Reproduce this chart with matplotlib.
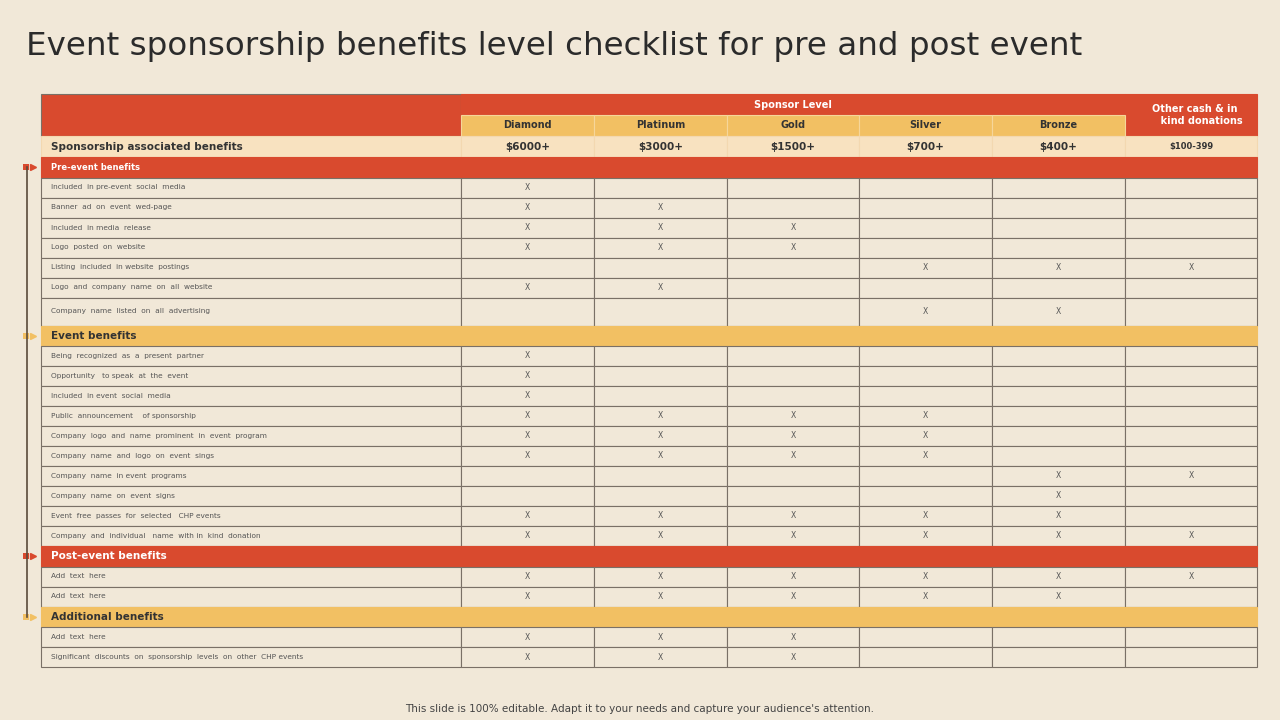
import matplotlib
matplotlib.use("Agg")
import matplotlib.pyplot as plt
from matplotlib.patches import Rectangle

# ---- data ----
levels = ["Diamond", "Platinum", "Gold", "Silver", "Bronze"]
prices = ["$6000+", "$3000+", "$1500+", "$700+", "$400+", "$100-399"]

pre_event = ["Included  in pre-event  social  media", "Banner  ad  on  event  wed-page",
             "Included  in media  release", "Logo  posted  on  website",
             "Listing  included  in website  postings", "Logo  and  company  name  on  all  website",
             "Company  name  listed  on  all  advertising"]
pre_marks = ["X.....", "XX....", "XXX...", "XXX...", "...XXX", "XX....", "...XX."]

event = ["Being  recognized  as  a  present  partner", "Opportunity   to speak  at  the  event",
         "Included  in event  social  media", "Public  announcement    of sponsorship",
         "Company  logo  and  name  prominent  in  event  program", "Company  name  and  logo  on  event  sings",
         "Company  name  in event  programs", "Company  name  on  event  signs",
         "Event  free  passes  for  selected   CHP events", "Company  and  individual   name  with in  kind  donation"]
event_marks = ["X.....", "X.....", "X.....", "XXXX..", "XXXX..", "XXXX..", "....XX", "....X.", "XXXXX.", "XXXXXX"]

post_event = ["Add  text  here", "Add  text  here"]
post_marks = ["XXXXXX", "XXXXX."]

additional = ["Add  text  here", "Significant  discounts  on  sponsorship  levels  on  other  CHP events"]
add_marks = ["XXX...", "XXX..."]

sections = [("Pre-event benefits", pre_event, pre_marks, "red"),
            ("Event benefits", event, event_marks, "yellow"),
            ("Post-event benefits", post_event, post_marks, "red"),
            ("Additional benefits", additional, add_marks, "yellow")]

# ---- style ----
BG = "#f1e8d8"
RED = "#d94a2e"
YEL = "#f2c063"
PALE = "#f8e2c0"
LINE = "#7a7066"
TXT = "#555555"

col_x = [41, 461, 594, 727, 859, 992, 1125, 1257]
row_h, sec_h, tall_h = 20, 20.5, 28

fig = plt.figure(figsize=(12.8, 7.2), dpi=100, facecolor=BG)
ax = fig.add_axes([0, 0, 1, 1])
ax.set_xlim(0, 1280); ax.set_ylim(720, 0); ax.axis("off")

fig.text(26 / 1280, 1 - 47 / 720, "Event sponsorship benefits level checklist for pre and post event",
         fontsize=23.4, color="#2b2b2b", va="center", family="DejaVu Sans")
fig.text(0.5, 1 - 709 / 720, "This slide is 100% editable. Adapt it to your needs and capture your audience's attention.",
         fontsize=7.5, color="#444444", ha="center", va="center")


def rect(x0, y0, x1, y1, fc, ec=LINE, lw=0.8):
    ax.add_patch(Rectangle((x0, y0), x1 - x0, y1 - y0, facecolor=fc, edgecolor=ec, linewidth=lw))


# header
rect(col_x[0], 94, col_x[1], 136, RED)
rect(col_x[1], 94, col_x[6], 115, RED, ec=RED)
ax.text((col_x[1] + col_x[6]) / 2, 104.5, "Sponsor Level", color="white", fontsize=7, ha="center", va="center", weight="bold")
rect(col_x[6], 94, col_x[7], 136, RED, ec=RED)
ax.text(1195, 115, "Other cash & in\n    kind donations", color="white", fontsize=7, ha="center", va="center", weight="bold")
for i, lv in enumerate(levels):
    rect(col_x[i + 1], 115, col_x[i + 2], 136, YEL, ec="#f6d69a")
    ax.text((col_x[i + 1] + col_x[i + 2]) / 2, 125.5, lv, fontsize=7, ha="center", va="center", color="#333", weight="bold")
rect(col_x[0], 136, col_x[1], 157, PALE, ec="#f3d8b0")
ax.text(51, 146.5, "Sponsorship associated benefits", fontsize=7.5, va="center", color="#333", weight="bold")
for i, p in enumerate(prices):
    rect(col_x[i + 1], 136, col_x[i + 2], 157, PALE, ec="#f3d8b0")
    ax.text((col_x[i + 1] + col_x[i + 2]) / 2, 146.5, p, fontsize=7.5 if i < 5 else 6,
            ha="center", va="center", color="#333", weight="bold")

# body
y = 157
markers = []
for name, labels, marks, kind in sections:
    fc = RED if kind == "red" else YEL
    rect(col_x[0], y, col_x[7], y + sec_h, fc, ec=fc)
    ax.text(51, y + sec_h / 2, name, fontsize=6 if name.startswith("Pre") else 7.5, va="center", weight="bold",
            color="white" if kind == "red" else "#333")
    markers.append((y + sec_h / 2, fc))
    y += sec_h
    for lab, mk in zip(labels, marks):
        h = tall_h if lab.startswith("Company  name  listed") else row_h
        for c in range(7):
            rect(col_x[c], y, col_x[c + 1], y + h, BG)
        ax.text(51, y + h / 2, lab, fontsize=5.3, va="center", color=TXT)
        for c, m in enumerate(mk):
            if m == "X":
                ax.text((col_x[c + 1] + col_x[c + 2]) / 2, y + h / 2, "X", fontsize=5.5, ha="center", va="center", color=TXT)
        y += h

# left timeline
ax.plot([27, 27], [markers[0][0], markers[-1][0]], color="#5a4a3a", lw=1.2)
for my, c in markers:
    ax.add_patch(Rectangle((23, my - 3), 6, 6, facecolor=c, edgecolor="none"))
    ax.plot(33, my, marker=">", color=c, markersize=5)

fig.savefig("out.png", dpi=100, facecolor=BG)
